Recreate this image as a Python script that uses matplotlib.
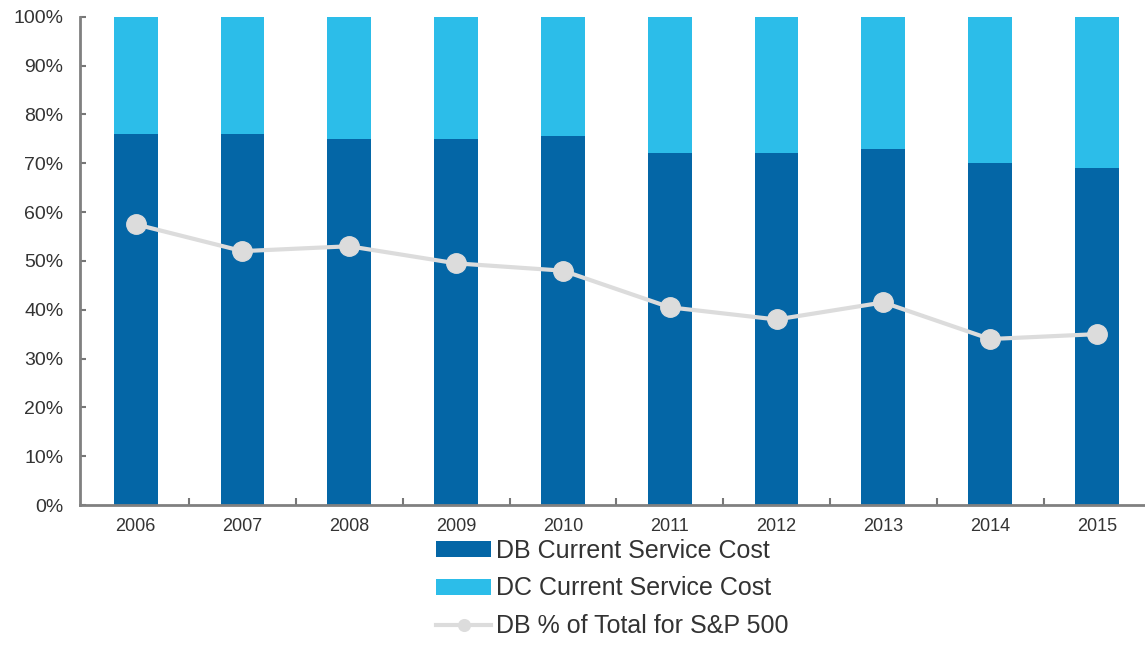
import numpy as np
import matplotlib
matplotlib.use("Agg")
import matplotlib.pyplot as plt
from matplotlib.ticker import PercentFormatter

# data
years = ["2006", "2007", "2008", "2009", "2010", "2011", "2012", "2013", "2014", "2015"]
db_cost = [76, 76, 75, 75, 75.5, 72, 72, 73, 70, 69]
dc_cost = [100 - v for v in db_cost]
db_pct_sp500 = [57.5, 52, 53, 49.5, 48, 40.5, 38, 41.5, 34, 35]

dark_blue = "#0466A6"
light_blue = "#2CBDE9"
line_grey = "#DCDCDC"
text_col = "#333333"

plt.rcParams["font.family"] = ["Liberation Sans", "DejaVu Sans"]

fig = plt.figure(figsize=(11.45, 6.45), dpi=100)
ax = fig.add_axes([0.07, 0.217, 0.93, 0.757])

x = np.arange(len(years))
b1 = ax.bar(x, db_cost, width=0.41, color=dark_blue, label="DB Current Service Cost", zorder=2)
b2 = ax.bar(x, dc_cost, width=0.41, bottom=db_cost, color=light_blue,
            label="DC Current Service Cost", zorder=2)
ln, = ax.plot(x, db_pct_sp500, color=line_grey, linewidth=3, marker="o", markersize=14,
              markerfacecolor=line_grey, markeredgecolor=line_grey,
              label="DB % of Total for S&P 500", zorder=3)

ax.set_xlim(-0.52, 9.45)
ax.set_ylim(0, 100)
ax.set_yticks(np.arange(0, 101, 10))
ax.yaxis.set_major_formatter(PercentFormatter(decimals=0))
ax.set_xticks(x)
ax.set_xticklabels(years)
# small inward ticks between categories on the x axis
ax.set_xticks(x[:-1] + 0.5, minor=True)
ax.tick_params(axis="x", which="major", length=0, labelsize=13, labelcolor=text_col, pad=9)
ax.tick_params(axis="x", which="minor", direction="in", length=5, width=1.5, color="#777777")
ax.tick_params(axis="y", direction="in", length=4, width=1.5, color="#777777",
               labelsize=14, labelcolor=text_col, pad=12)

for side in ["top", "right"]:
    ax.spines[side].set_visible(False)
for side in ["left", "bottom"]:
    ax.spines[side].set_color("#808080")
    ax.spines[side].set_linewidth(2)

ax.legend(handles=[b1, b2, ln], loc="upper center", bbox_to_anchor=(0.5, -0.028),
          frameon=False, fontsize=18, handlelength=2.2, handleheight=0.6,
          handletextpad=0.2, labelspacing=0.55, markerscale=0.6, labelcolor=text_col,
          borderpad=0.3)

fig.savefig("out.png", dpi=100)
